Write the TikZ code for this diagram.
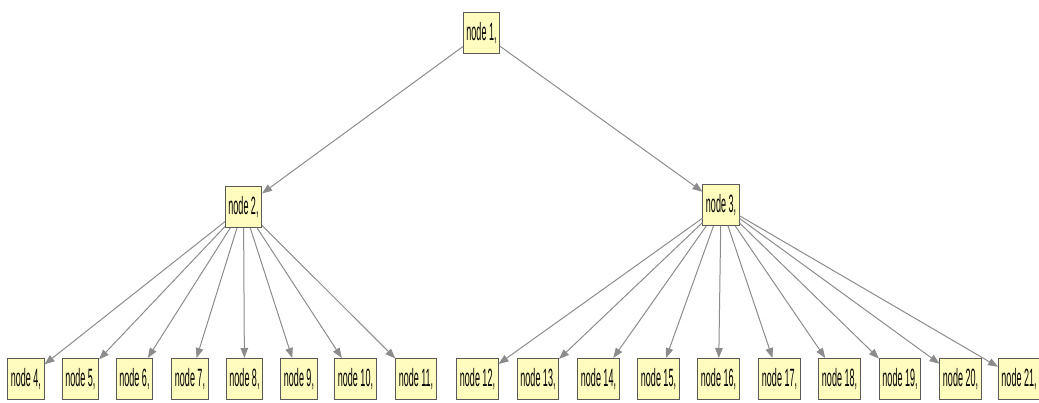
\documentclass[tikz,border=0pt]{standalone}
\usepackage{fontspec}
\setmainfont{Liberation Sans}[FakeStretch=0.36]
\usetikzlibrary{arrows.meta}

\begin{document}
\begin{tikzpicture}[
  x=1pt, y=-1pt,
  tnode/.style={rectangle, draw=black!65, fill=yellow!26, line width=1pt,
                minimum height=41pt, inner xsep=3pt, inner ysep=2pt,
                font=\fontsize{25}{25}\selectfont},
  edge/.style={draw=gray!90, line width=1pt,
               -{Triangle[length=10pt, width=7.5pt, fill=gray!90]}}
]
\useasboundingbox (0,0) rectangle (1039,403);

% Root and second level
\node[tnode] (n1) at (481.5,33) {node 1,};
\node[tnode] (n2) at (243.5,207) {node 2,};
\node[tnode] (n3) at (721,205) {node 3,};

% Leaves of node 2
\node[tnode] (n4)  at (26,379)    {node 4,};
\node[tnode] (n5)  at (80.5,379)  {node 5,};
\node[tnode] (n6)  at (134.5,379) {node 6,};
\node[tnode] (n7)  at (190,379)   {node 7,};
\node[tnode] (n8)  at (244.5,379) {node 8,};
\node[tnode] (n9)  at (299,379)   {node 9,};
\node[tnode] (n10) at (355.5,379) {node 10,};
\node[tnode] (n11) at (416,379)   {node 11,};

% Leaves of node 3
\node[tnode] (n12) at (477.5,379) {node 12,};
\node[tnode] (n13) at (538,379)   {node 13,};
\node[tnode] (n14) at (598.5,379) {node 14,};
\node[tnode] (n15) at (658.5,379) {node 15,};
\node[tnode] (n16) at (718.5,379) {node 16,};
\node[tnode] (n17) at (779.5,379) {node 17,};
\node[tnode] (n18) at (839.5,379) {node 18,};
\node[tnode] (n19) at (900,379)   {node 19,};
\node[tnode] (n20) at (960.5,379) {node 20,};
\node[tnode] (n21) at (1019,379)  {node 21,};

% Edges
\draw[edge] (n1) -- (n2);
\draw[edge] (n1) -- (n3);
\foreach \c in {4,...,11}
  \draw[edge] (n2) -- (n\c);
\foreach \c in {12,...,21}
  \draw[edge] (n3) -- (n\c);

\end{tikzpicture}
\end{document}
